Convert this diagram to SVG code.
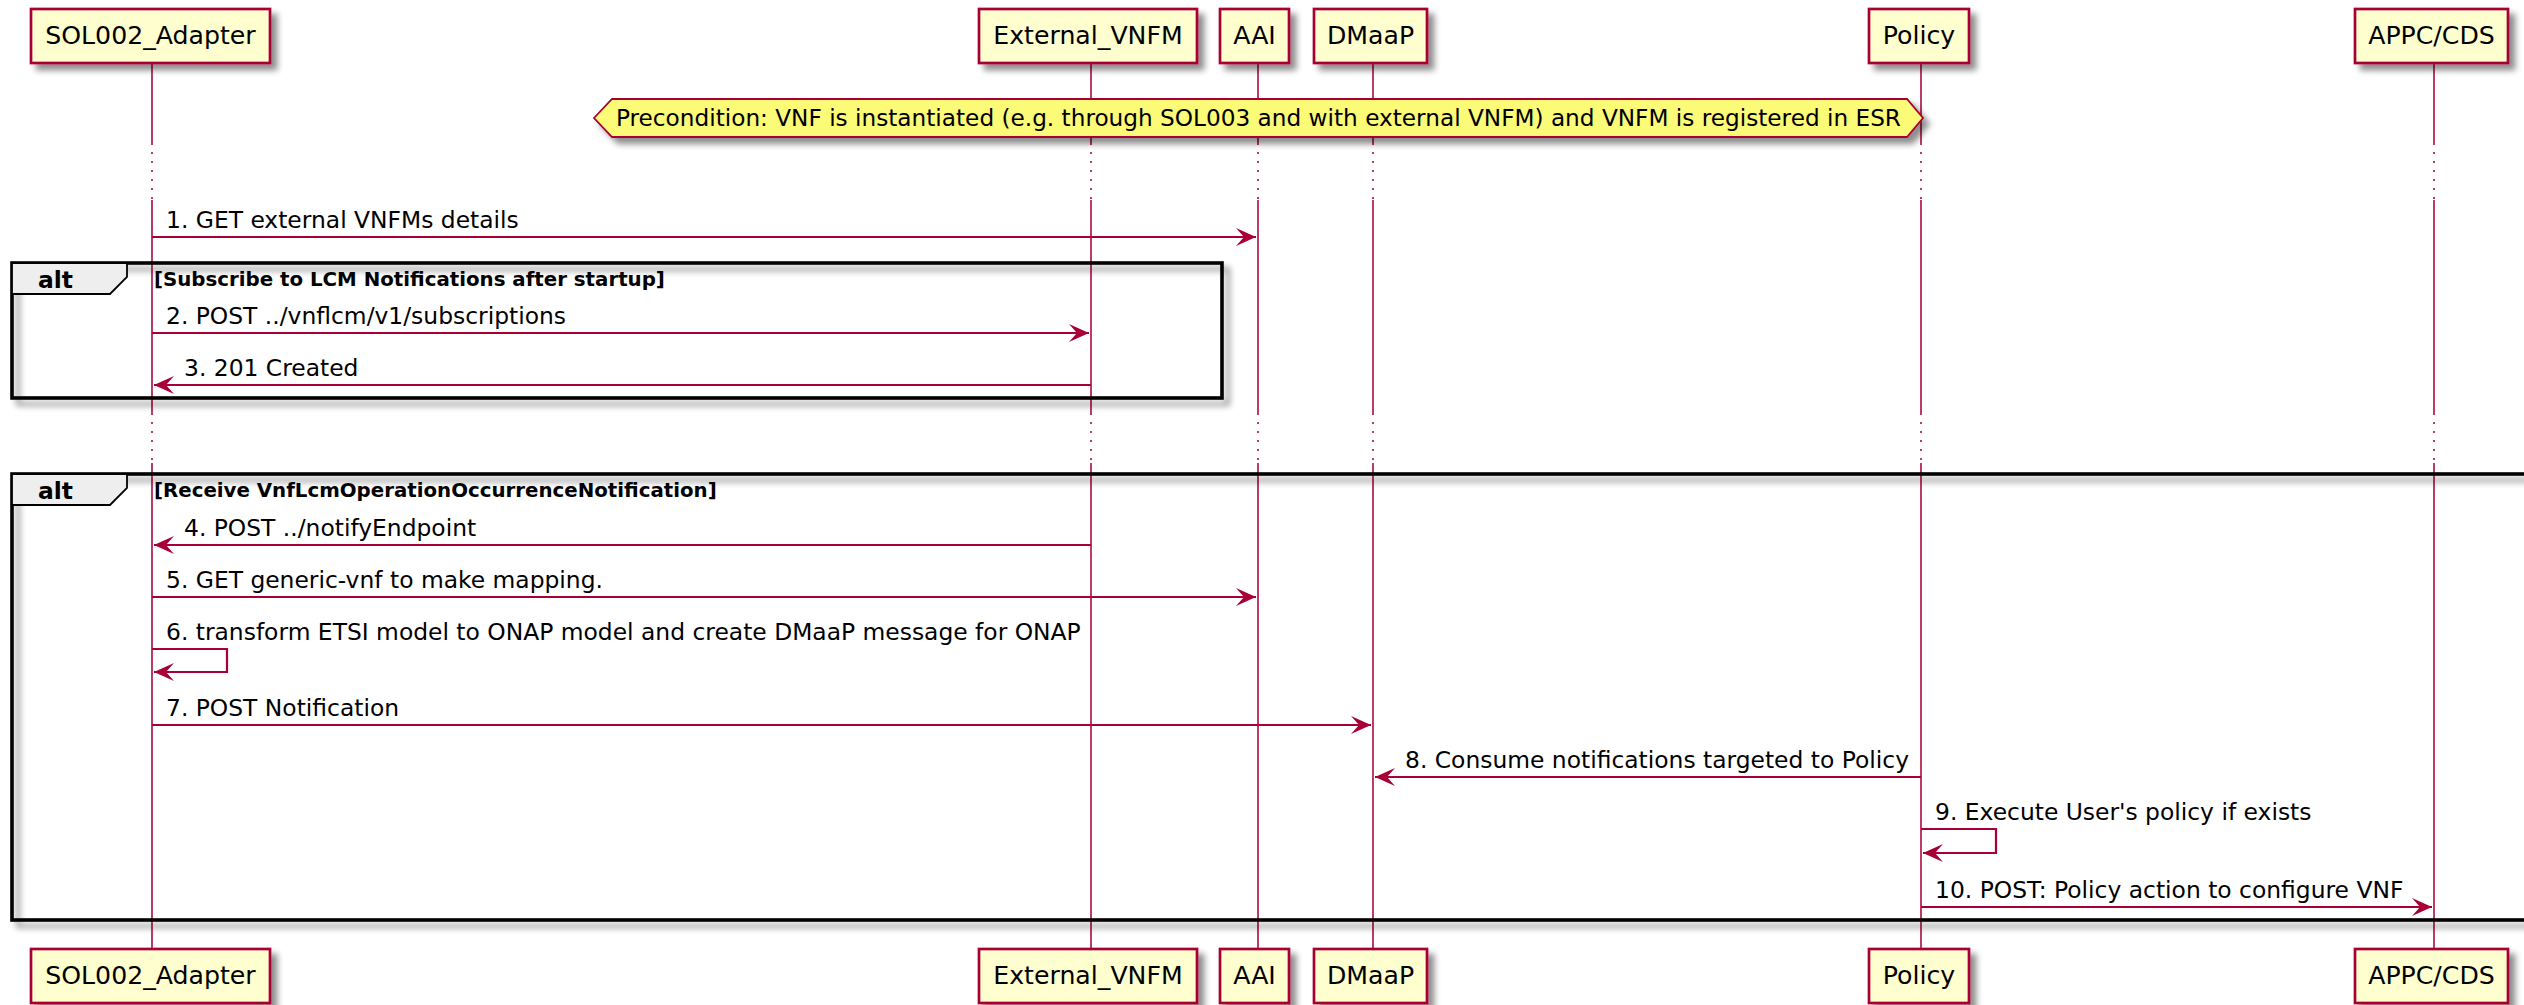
<svg xmlns="http://www.w3.org/2000/svg" width="2524" height="1005" viewBox="0 0 2524 1005">
<defs>
<filter id="sh" x="-10%" y="-20%" width="130%" height="160%">
<feGaussianBlur in="SourceAlpha" stdDeviation="3"/>
<feOffset dx="6" dy="6" result="b"/>
<feComponentTransfer><feFuncA type="linear" slope="0.45"/></feComponentTransfer>
<feMerge><feMergeNode/><feMergeNode in="SourceGraphic"/></feMerge>
</filter>
<marker id="ah" markerUnits="userSpaceOnUse" viewBox="-22 -10 24 20" markerWidth="24" markerHeight="20" refX="0" refY="0" orient="auto">
<path d="M0,0 L-20,-9 L-12,0 L-20,9 Z" fill="#A80036"/>
</marker>
</defs>
<style>
text{font-family:"DejaVu Sans","Liberation Sans",sans-serif;fill:#000}
.pbox{fill:#FEFECE;stroke:#A80036;stroke-width:2.7}
.ptxt{font-size:25.2px;text-anchor:middle}
.life{stroke:#A80036;stroke-width:1.8;stroke-opacity:0.85;fill:none}
.dot{stroke:#A80036;stroke-width:1.8;stroke-opacity:0.85;stroke-dasharray:2,7;fill:none}
.msg{stroke:#A80036;stroke-width:2.2;fill:none;marker-end:url(#ah)}
.mtxt{font-size:23.4px}
.ntxt{font-size:23.2px}
.frame{fill:none;stroke:#000;stroke-width:3.6}
.tab{fill:#EEEEEE;stroke:#000;stroke-width:1.8}
.altl{font-size:23.4px;font-weight:bold}
.guard{font-size:19.8px;font-weight:bold}
.note{fill:#FBFB77;stroke:#A80036;stroke-width:1.8}
</style>
<rect width="2524" height="1005" fill="#fff"/>

<g id="lifelines">
<path class="life" d="M152,63V143M152,200V413M152,463V949"/>
<path class="dot" d="M152,143V200M152,413V463"/>
<path class="life" d="M1091,63V143M1091,200V413M1091,463V949"/>
<path class="dot" d="M1091,143V200M1091,413V463"/>
<path class="life" d="M1258,63V143M1258,200V413M1258,463V949"/>
<path class="dot" d="M1258,143V200M1258,413V463"/>
<path class="life" d="M1373,63V143M1373,200V413M1373,463V949"/>
<path class="dot" d="M1373,143V200M1373,413V463"/>
<path class="life" d="M1921,63V143M1921,200V413M1921,463V949"/>
<path class="dot" d="M1921,143V200M1921,413V463"/>
<path class="life" d="M2434,63V143M2434,200V413M2434,463V949"/>
<path class="dot" d="M2434,143V200M2434,413V463"/>
</g>

<g id="alt1">
<rect class="frame" x="12" y="263" width="1210" height="135" filter="url(#sh)"/>
<polygon class="tab" points="12,263 127,263 127,277 110,294 12,294"/>
<text class="altl" x="38" y="288">alt</text>
<text class="guard" x="154" y="286">[Subscribe to LCM Notifications after startup]</text>
</g>

<g id="alt2">
<rect class="frame" x="12" y="474" width="2540" height="446" filter="url(#sh)"/>
<polygon class="tab" points="12,474 127,474 127,488 110,505 12,505"/>
<text class="altl" x="38" y="499">alt</text>
<text class="guard" x="154" y="497">[Receive VnfLcmOperationOccurrenceNotification]</text>
</g>

<g id="note">
<polygon class="note" points="594,118 612,99 1907,99 1923,118 1907,137 612,137" filter="url(#sh)"/>
<text class="ntxt" x="616" y="126">Precondition: VNF is instantiated (e.g. through SOL003 and with external VNFM) and VNFM is registered in ESR</text>
</g>

<g id="connectors">
<line class="msg" x1="152" y1="237" x2="1256" y2="237"/>
<text class="mtxt" x="166" y="228">1. GET external VNFMs details</text>
<line class="msg" x1="152" y1="333" x2="1089" y2="333"/>
<text class="mtxt" x="166" y="324">2. POST ../vnflcm/v1/subscriptions</text>
<line class="msg" x1="1091" y1="385" x2="154" y2="385"/>
<text class="mtxt" x="184" y="376">3. 201 Created</text>
<line class="msg" x1="1091" y1="545" x2="154" y2="545"/>
<text class="mtxt" x="184" y="536">4. POST ../notifyEndpoint</text>
<line class="msg" x1="152" y1="597" x2="1256" y2="597"/>
<text class="mtxt" x="166" y="588">5. GET generic-vnf to make mapping.</text>
<polyline class="msg" points="152,649 227,649 227,672 154,672"/>
<text class="mtxt" x="166" y="640">6. transform ETSI model to ONAP model and create DMaaP message for ONAP</text>
<line class="msg" x1="152" y1="725" x2="1371" y2="725"/>
<text class="mtxt" x="166" y="716">7. POST Notification</text>
<line class="msg" x1="1921" y1="777" x2="1375" y2="777"/>
<text class="mtxt" x="1405" y="768">8. Consume notifications targeted to Policy</text>
<polyline class="msg" points="1921,829 1996,829 1996,853 1923,853"/>
<text class="mtxt" x="1935" y="820">9. Execute User's policy if exists</text>
<line class="msg" x1="1921" y1="907" x2="2432" y2="907"/>
<text class="mtxt" x="1935" y="898">10. POST: Policy action to configure VNF</text>
</g>

<g id="p-sol002">
<rect class="pbox" x="31" y="9" width="239" height="54" filter="url(#sh)"/>
<text class="ptxt" x="150.5" y="44">SOL002_Adapter</text>
<rect class="pbox" x="31" y="949" width="239" height="54" filter="url(#sh)"/>
<text class="ptxt" x="150.5" y="984">SOL002_Adapter</text>
</g>
<g id="p-external-vnfm">
<rect class="pbox" x="979" y="9" width="218" height="54" filter="url(#sh)"/>
<text class="ptxt" x="1088" y="44">External_VNFM</text>
<rect class="pbox" x="979" y="949" width="218" height="54" filter="url(#sh)"/>
<text class="ptxt" x="1088" y="984">External_VNFM</text>
</g>
<g id="p-aai">
<rect class="pbox" x="1220" y="9" width="69" height="54" filter="url(#sh)"/>
<text class="ptxt" x="1254.5" y="44">AAI</text>
<rect class="pbox" x="1220" y="949" width="69" height="54" filter="url(#sh)"/>
<text class="ptxt" x="1254.5" y="984">AAI</text>
</g>
<g id="p-dmaap">
<rect class="pbox" x="1314" y="9" width="113" height="54" filter="url(#sh)"/>
<text class="ptxt" x="1370.5" y="44">DMaaP</text>
<rect class="pbox" x="1314" y="949" width="113" height="54" filter="url(#sh)"/>
<text class="ptxt" x="1370.5" y="984">DMaaP</text>
</g>
<g id="p-policy">
<rect class="pbox" x="1869" y="9" width="100" height="54" filter="url(#sh)"/>
<text class="ptxt" x="1919" y="44">Policy</text>
<rect class="pbox" x="1869" y="949" width="100" height="54" filter="url(#sh)"/>
<text class="ptxt" x="1919" y="984">Policy</text>
</g>
<g id="p-appc-cds">
<rect class="pbox" x="2355" y="9" width="153" height="54" filter="url(#sh)"/>
<text class="ptxt" x="2431.5" y="44">APPC/CDS</text>
<rect class="pbox" x="2355" y="949" width="153" height="54" filter="url(#sh)"/>
<text class="ptxt" x="2431.5" y="984">APPC/CDS</text>
</g>
</svg>
